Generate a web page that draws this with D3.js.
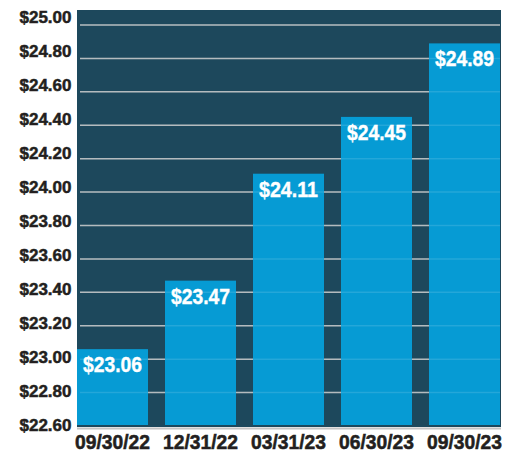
<!DOCTYPE html>
<html>
<head>
<meta charset="utf-8">
<script src="https://cdn.jsdelivr.net/npm/d3@7"></script>
<style>
    body { margin: 0; background: #fff; }
    svg { display: block; }
</style>
</head>
<body>
<div id="chart"></div>
<script>
const categories = ["09/30/22", "12/31/22", "03/31/23", "06/30/23", "09/30/23"];
const values = [23.06, 23.47, 24.11, 24.45, 24.89];
const tickValues = [22.6, 22.8, 23.0, 23.2, 23.4, 23.6, 23.8, 24.0, 24.2, 24.4, 24.6, 24.8, 25.0];

const width = 518;
const height = 453;
const font = "'Liberation Sans', Arial, sans-serif";

const svg = d3.select("#chart")
    .append("svg")
    .attr("width", width)
    .attr("height", height);

// plot area
const plotLeft = 77, plotRight = 501, plotTop = 10, plotBottom = 427;

const x = d3.scaleBand()
    .domain(categories)
    .range([plotLeft, 500])
    .paddingInner(0.193)
    .paddingOuter(0);

// scale for bars and grid
const y = d3.scaleLinear()
    .domain([22.6, 25])
    .range([426, 25]);

// scale for the axis labels
const yLabel = d3.scaleLinear()
    .domain([22.6, 25])
    .range([425, 17]);

svg.append("rect")
    .attr("x", plotLeft)
    .attr("y", plotTop)
    .attr("width", plotRight - plotLeft)
    .attr("height", plotBottom - plotTop)
    .attr("fill", "#1d485c");

const gridVals = tickValues.filter(d => d > 22.6);

// grid lines
svg.append("g")
    .selectAll("line")
    .data(gridVals)
    .enter()
    .append("line")
    .attr("x1", 80)
    .attr("x2", plotRight - 1)
    .attr("y1", d => y(d))
    .attr("y2", d => y(d))
    .attr("stroke", "#aab2b6")
    .attr("stroke-width", 1.5);

// bars
svg.append("g")
    .selectAll("rect")
    .data(values)
    .enter()
    .append("rect")
    .attr("x", (d, i) => x(categories[i]))
    .attr("y", d => y(d))
    .attr("width", x.bandwidth())
    .attr("height", d => 425 - y(d))
    .attr("fill", "#069bd4");

// faint grid over the bars
svg.append("g")
    .selectAll("line")
    .data(gridVals)
    .enter()
    .append("line")
    .attr("x1", 80)
    .attr("x2", plotRight - 1)
    .attr("y1", d => y(d))
    .attr("y2", d => y(d))
    .attr("stroke", "#fff")
    .attr("stroke-opacity", 0.12)
    .attr("stroke-width", 1.5);

// bottom line
svg.append("line")
    .attr("x1", plotLeft)
    .attr("x2", plotRight)
    .attr("y1", 428.5)
    .attr("y2", 428.5)
    .attr("stroke", "#c4c4c4")
    .attr("stroke-width", 2);

// value labels
svg.append("g")
    .selectAll("text")
    .data(values)
    .enter()
    .append("text")
    .attr("x", (d, i) => x(categories[i]) + x.bandwidth() / 2)
    .attr("y", d => y(d) + 23)
    .attr("text-anchor", "middle")
    .attr("font-family", font)
    .attr("font-weight", "bold")
    .attr("font-size", "22px")
    .attr("textLength", 59)
    .attr("lengthAdjust", "spacingAndGlyphs")
    .attr("fill", "#fff")
    .attr("stroke", "#fff")
    .attr("stroke-width", 0.4)
    .text(d => "$" + d.toFixed(2));

// y axis labels
const yAxis = d3.axisLeft(yLabel)
    .tickValues(tickValues)
    .tickSize(0)
    .tickPadding(0)
    .tickFormat(d => "$" + d.toFixed(2));

const yg = svg.append("g")
    .attr("transform", "translate(71.5,0)")
    .call(yAxis);
yg.select(".domain").remove();
yg.selectAll("text")
    .attr("dy", "0.33em")
    .attr("font-family", font)
    .attr("font-weight", "bold")
    .attr("font-size", "17px")
    .attr("textLength", 52)
    .attr("lengthAdjust", "spacingAndGlyphs")
    .attr("fill", "#231f20")
    .attr("stroke", "#231f20")
    .attr("stroke-width", 0.5);

// x axis labels
const xAxis = d3.axisBottom(x)
    .tickSize(0)
    .tickPadding(0);

const xg = svg.append("g")
    .attr("transform", "translate(0,436)")
    .call(xAxis);
xg.select(".domain").remove();
xg.selectAll("text")
    .attr("y", 13)
    .attr("dy", 0)
    .attr("font-family", font)
    .attr("font-weight", "bold")
    .attr("font-size", "19.5px")
    .attr("textLength", 75)
    .attr("lengthAdjust", "spacingAndGlyphs")
    .attr("fill", "#231f20")
    .attr("stroke", "#231f20")
    .attr("stroke-width", 0.5);
</script>
</body>
</html>
